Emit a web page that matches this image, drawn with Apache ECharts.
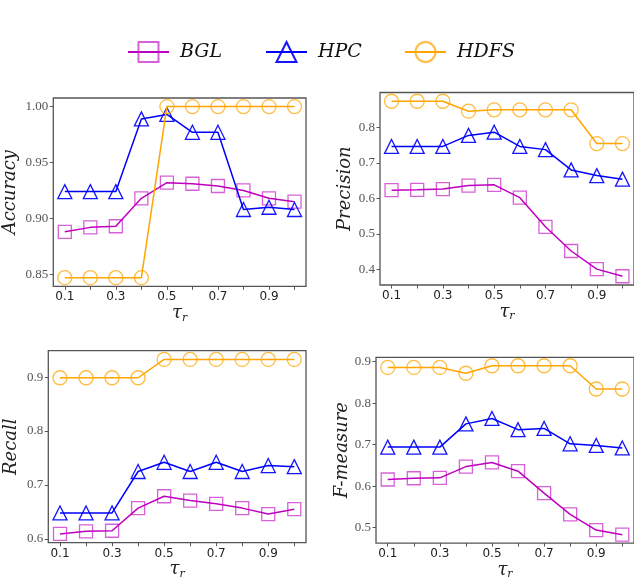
<!DOCTYPE html>
<html>
<head>
<meta charset="utf-8">
<script src="https://cdn.jsdelivr.net/npm/echarts@6/dist/echarts.min.js"></script>
<style>
  html, body { margin: 0; padding: 0; background: #fff; }
  #chart { width: 634px; height: 581px; }
</style>
</head>
<body>
<div id="chart"></div>
<script>
// Threshold values on the x axis
const tauR = [0.1, 0.2, 0.3, 0.4, 0.5, 0.6, 0.7, 0.8, 0.9, 1.0];
const xTickValues = [0.1, 0.2, 0.3, 0.4, 0.5, 0.6, 0.7, 0.8, 0.9, 1.0];
const xLabelValues = [0.1, 0.3, 0.5, 0.7, 0.9];

// Accuracy
const accuracyBGL  = [0.888, 0.892, 0.893, 0.918, 0.932, 0.931, 0.929, 0.925, 0.918, 0.915];
const accuracyHPC  = [0.924, 0.924, 0.924, 0.989, 0.993, 0.977, 0.977, 0.908, 0.910, 0.908];
const accuracyHDFS = [0.847, 0.847, 0.847, 0.847, 1.000, 1.000, 1.000, 1.000, 1.000, 1.000];
const accuracyTicks = [0.85, 0.90, 0.95, 1.00];

// Precision
const precisionBGL  = [0.623, 0.624, 0.626, 0.636, 0.638, 0.602, 0.520, 0.452, 0.401, 0.381];
const precisionHPC  = [0.746, 0.746, 0.746, 0.777, 0.786, 0.746, 0.737, 0.680, 0.664, 0.654];
const precisionHDFS = [0.873, 0.873, 0.873, 0.845, 0.849, 0.849, 0.849, 0.849, 0.754, 0.754];
const precisionTicks = [0.4, 0.5, 0.6, 0.7, 0.8];

// Recall
const recallBGL  = [0.609, 0.614, 0.615, 0.657, 0.679, 0.671, 0.665, 0.657, 0.646, 0.655];
const recallHPC  = [0.648, 0.648, 0.648, 0.725, 0.742, 0.725, 0.742, 0.725, 0.736, 0.734];
const recallHDFS = [0.899, 0.899, 0.899, 0.899, 0.933, 0.933, 0.933, 0.933, 0.933, 0.933];
const recallTicks = [0.6, 0.7, 0.8, 0.9];

// F-measure
const fmeasureBGL  = [0.616, 0.619, 0.620, 0.647, 0.657, 0.636, 0.583, 0.532, 0.494, 0.483];
const fmeasureHPC  = [0.694, 0.694, 0.694, 0.750, 0.763, 0.736, 0.739, 0.702, 0.698, 0.692];
const fmeasureHDFS = [0.886, 0.886, 0.886, 0.872, 0.890, 0.890, 0.890, 0.890, 0.834, 0.834];
const fmeasureTicks = [0.5, 0.6, 0.7, 0.8, 0.9];

const seriesNames = ['BGL', 'HPC', 'HDFS'];

const styles = {
  BGL:  { line: '#bf00bf', edge: 'rgba(191,0,191,0.62)', symbol: 'rect',     size: 13 },
  HPC:  { line: '#0000ff', edge: 'rgba(0,0,255,0.92)',   symbol: 'triangle', size: 14 },
  HDFS: { line: '#ffa500', edge: 'rgba(255,165,0,0.75)', symbol: 'circle',   size: 14 }
};

const panels = [
  { title: 'Accuracy',  data: [accuracyBGL, accuracyHPC, accuracyHDFS],   ticks: accuracyTicks,  digits: 2,
    range: [0.8393, 1.0077], grid: { left: 53.3, top: 98,    width: 252.7, height: 188.3 }, nameGap: 34 },
  { title: 'Precision', data: [precisionBGL, precisionHPC, precisionHDFS], ticks: precisionTicks, digits: 1,
    range: [0.3564, 0.8976], grid: { left: 380,  top: 92.5,  width: 258,   height: 192.5 }, nameGap: 26 },
  { title: 'Recall',    data: [recallBGL, recallHPC, recallHDFS],          ticks: recallTicks,    digits: 1,
    range: [0.5928, 0.9492], grid: { left: 48.3, top: 350.7, width: 257.7, height: 192 },   nameGap: 28 },
  { title: 'F-measure', data: [fmeasureBGL, fmeasureHPC, fmeasureHDFS],    ticks: fmeasureTicks,  digits: 1,
    range: [0.4627, 0.9104], grid: { left: 376,  top: 357.3, width: 262.2, height: 188.7 }, nameGap: 20 }
];

const frameColor = '#555';
const grids = [], xAxes = [], yAxes = [], series = [];

panels.forEach((p, i) => {
  grids.push(Object.assign({
    show: true, borderColor: frameColor, borderWidth: 1.3, backgroundColor: 'transparent', containLabel: false
  }, p.grid));

  xAxes.push({
    type: 'value', gridIndex: i, min: 0.055, max: 1.045,
    splitLine: { show: false },
    axisLine: { show: false },
    axisTick: { show: true, inside: false, length: 3.5, customValues: xTickValues,
                lineStyle: { color: frameColor, width: 1 } },
    axisLabel: { customValues: xLabelValues, margin: 5, formatter: v => v.toFixed(1),
                 fontFamily: 'DejaVu Sans', fontSize: 12, color: '#222' },
    name: '{t|τ}{s|r}', nameLocation: 'middle', nameGap: 13,
    nameTextStyle: {
      rich: {
        t: { fontFamily: 'DejaVu Serif', fontStyle: 'italic', fontSize: 18, color: '#222' },
        s: { fontFamily: 'DejaVu Serif', fontStyle: 'italic', fontSize: 11, color: '#222',
             verticalAlign: 'bottom', padding: [9, 0, 0, 0] }
      }
    }
  });

  yAxes.push({
    type: 'value', gridIndex: i, min: p.range[0], max: p.range[1],
    splitLine: { show: false },
    axisLine: { show: false },
    axisTick: { show: true, inside: false, length: 3.5, customValues: p.ticks,
                lineStyle: { color: frameColor, width: 1 } },
    axisLabel: { customValues: p.ticks, margin: 5, formatter: v => v.toFixed(p.digits),
                 fontFamily: 'Liberation Serif', fontSize: 13, color: '#555' },
    name: p.title, nameLocation: 'middle', nameGap: p.nameGap,
    nameTextStyle: { fontFamily: 'DejaVu Serif', fontStyle: 'italic', fontSize: 18, color: '#222' }
  });

  seriesNames.forEach((name, k) => {
    const s = styles[name];
    series.push({
      type: 'line', name: name, xAxisIndex: i, yAxisIndex: i,
      data: tauR.map((x, j) => [x, p.data[k][j]]),
      symbol: s.symbol, symbolSize: s.size, showAllSymbol: true,
      lineStyle: { color: s.line, width: 1.5 },
      itemStyle: { color: 'rgba(0,0,0,0)', borderColor: s.edge, borderWidth: 1.3 },
      emphasis: { disabled: true },
      z: 2 + k
    });
  });
});

// One legend block per series so each entry sits at its own spot
const legendLefts = [122, 260, 399];
const legends = seriesNames.map((name, k) => ({
  data: [name], left: legendLefts[k], top: 36,
  itemWidth: 41, itemHeight: 25, selectedMode: false,
  textStyle: { fontFamily: 'DejaVu Serif', fontStyle: 'italic', fontSize: 19, color: '#111',
               padding: [0, 0, 0, 6] }
}));

const chart = echarts.init(document.getElementById('chart'), null, { renderer: 'canvas' });
chart.setOption({
  animation: false,
  backgroundColor: '#fff',
  legend: legends,
  grid: grids,
  xAxis: xAxes,
  yAxis: yAxes,
  series: series
});
</script>
</body>
</html>
